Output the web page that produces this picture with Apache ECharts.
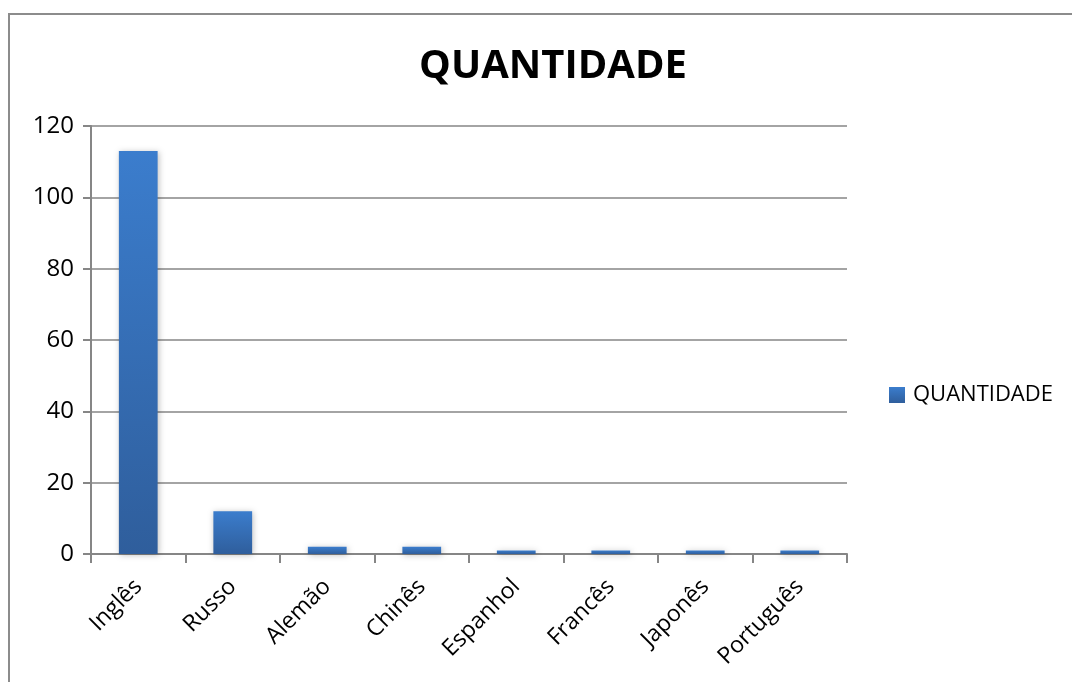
<!DOCTYPE html>
<html>
<head>
<meta charset="utf-8">
<script src="https://cdn.jsdelivr.net/npm/echarts@6/dist/echarts.min.js"></script>
<style>
  html, body { margin: 0; padding: 0; background: #fff; }
  #frame { position: absolute; left: 8px; top: 13px; width: 1080px; height: 700px; border: 2px solid #8c8c8c; box-sizing: border-box; }
  #chart { position: absolute; left: 0; top: 0; width: 1072px; height: 682px; }
</style>
</head>
<body>
<div id="frame"></div>
<div id="chart"></div>
<script>
// Number of items per language
const categories = ['Inglês', 'Russo', 'Alemão', 'Chinês', 'Espanhol', 'Francês', 'Japonês', 'Português'];
const quantidade = [113, 12, 2, 2, 1, 1, 1, 1];
const seriesName = 'QUANTIDADE';
const titleText = 'QUANTIDADE';

const font = '"Open Sans", "Liberation Sans", sans-serif';
const barColor = new echarts.graphic.LinearGradient(0, 0, 0, 1, [
  { offset: 0, color: '#3b7dcd' },
  { offset: 1, color: '#2f5e9c' }
]);

const chart = echarts.init(document.getElementById('chart'), null, { renderer: 'canvas' });
chart.setOption({
  backgroundColor: 'transparent',
  animation: false,
  title: {
    text: titleText,
    left: 548, top: 42, textAlign: 'center',
    textStyle: { fontFamily: font, fontWeight: 'bold', fontSize: 40, color: '#000' }
  },
  legend: {
    data: [seriesName],
    left: 889, top: 384, padding: 0,
    itemWidth: 16, itemHeight: 16, itemGap: 6,
    icon: 'rect',
    textStyle: { fontFamily: font, fontSize: 22, color: '#000', padding: [0, 0, 0, 3] }
  },
  grid: { left: 91, right: 225, top: 126, bottom: 128 },
  xAxis: {
    type: 'category',
    data: categories,
    axisLine: { lineStyle: { color: '#868686', width: 2 } },
    axisTick: { show: true, length: 9, lineStyle: { color: '#868686', width: 2 } },
    axisLabel: { rotate: 45, fontFamily: font, fontSize: 23, color: '#000', margin: 29 }
  },
  yAxis: {
    type: 'value',
    min: 0, max: 120, interval: 20,
    axisLine: { show: true, lineStyle: { color: '#868686', width: 2 } },
    axisTick: { show: true, length: 8, lineStyle: { color: '#868686', width: 2 } },
    axisLabel: { fontFamily: font, fontSize: 24, color: '#000', margin: 17 },
    splitLine: { lineStyle: { color: '#868686', width: 1.5 } }
  },
  series: [{
    name: seriesName,
    type: 'bar',
    data: quantidade,
    barWidth: '41%',
    itemStyle: {
      color: barColor,
      shadowColor: 'rgba(0,0,0,0.25)', shadowBlur: 6, shadowOffsetX: 1, shadowOffsetY: 1
    }
  }]
});
</script>
</body>
</html>
